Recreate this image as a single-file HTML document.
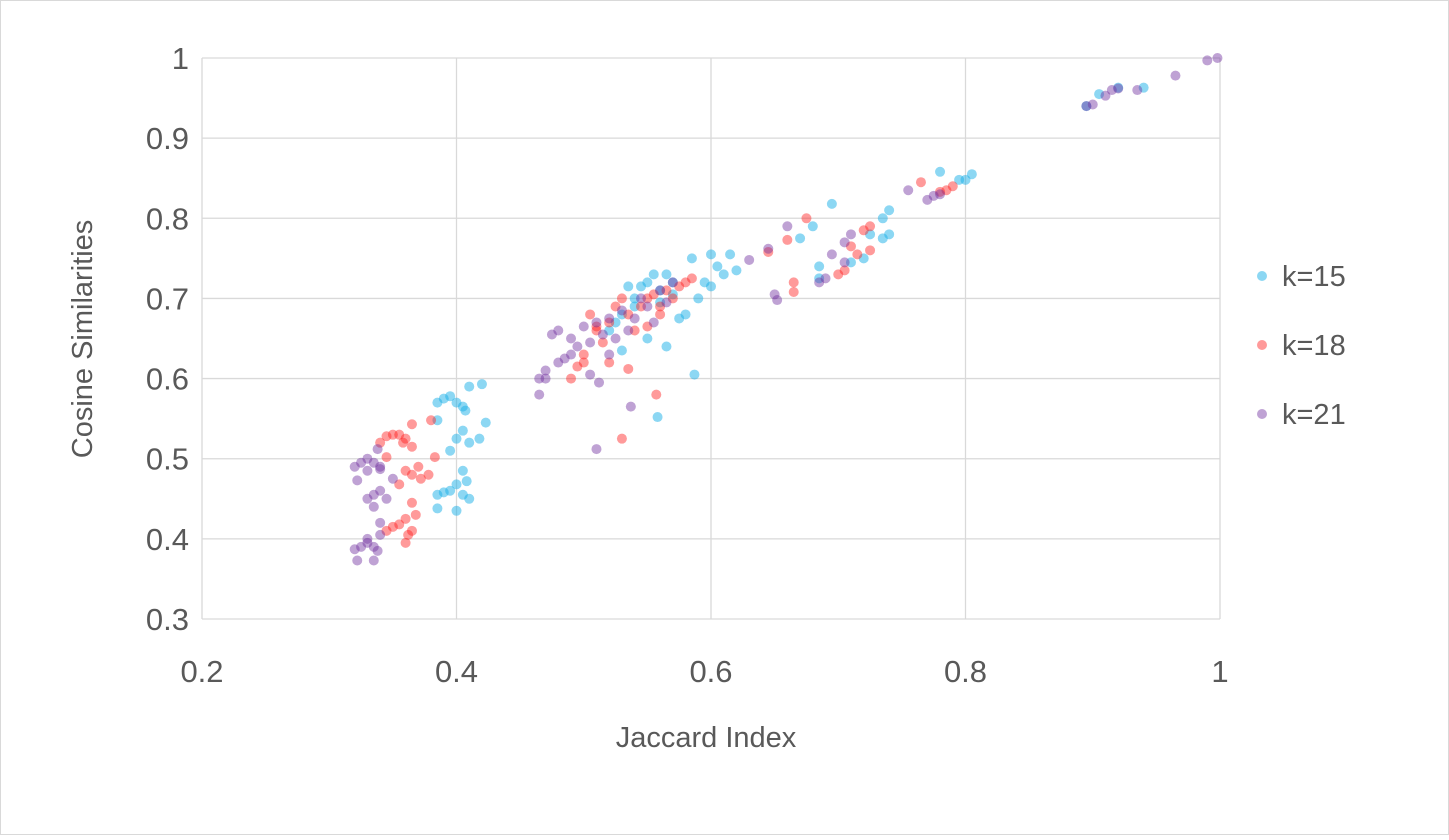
<!DOCTYPE html>
<html><head><meta charset="utf-8"><style>
body{margin:0;background:#fff;}
svg text{font-family:"Liberation Sans",sans-serif;fill:#595959;}
</style></head><body>
<svg id="chart" width="1449" height="835" xmlns="http://www.w3.org/2000/svg">
<rect x="0.5" y="0.5" width="1448" height="834" fill="#fff" stroke="#d9d9d9"/>
<g id="grid"></g>
<g id="ticks"></g>
<g id="pts"></g>
<text x="706" y="747" font-size="29" text-anchor="middle">Jaccard Index</text>
<text transform="translate(92,339) rotate(-90)" font-size="29" text-anchor="middle">Cosine Similarities</text>
<g>
<g><circle cx="1262" cy="276" r="5" fill="#1ab0e8" fill-opacity="0.5"/><text x="1282" y="286" font-size="29">k=15</text></g>
<g><circle cx="1262" cy="345" r="5" fill="#ff2020" fill-opacity="0.45"/><text x="1282" y="355" font-size="29">k=18</text></g>
<g><circle cx="1262" cy="414" r="5" fill="#7030a0" fill-opacity="0.45"/><text x="1282" y="424" font-size="29">k=21</text></g>
</g>
</svg>
<script>
const xTicks=[0.2,0.4,0.6,0.8,1];
const yTicks=[0.3,0.4,0.5,0.6,0.7,0.8,0.9,1];
const k15x=[0.385,0.39,0.395,0.40,0.405,0.41,0.42,0.407,0.385,0.40,0.405,0.41,0.418,0.423,0.395,0.385,0.39,0.395,0.40,0.405,0.408,0.405,0.385,0.40,0.41,0.52,0.53,0.54,0.545,0.55,0.555,0.56,0.565,0.57,0.58,0.585,0.59,0.595,0.60,0.605,0.61,0.615,0.62,0.6,0.575,0.565,0.558,0.587,0.55,0.53,0.54,0.525,0.535,0.56,0.57,0.67,0.68,0.685,0.695,0.685,0.72,0.725,0.735,0.74,0.74,0.735,0.78,0.795,0.80,0.805,0.71,0.905,0.92,0.94,0.895];
const k15y=[0.57,0.575,0.578,0.57,0.565,0.59,0.593,0.56,0.548,0.525,0.535,0.52,0.525,0.545,0.51,0.455,0.458,0.46,0.468,0.455,0.472,0.485,0.438,0.435,0.45,0.66,0.68,0.70,0.715,0.72,0.73,0.71,0.73,0.72,0.68,0.75,0.70,0.72,0.755,0.74,0.73,0.755,0.735,0.715,0.675,0.64,0.552,0.605,0.65,0.635,0.69,0.67,0.715,0.695,0.705,0.775,0.79,0.74,0.818,0.725,0.75,0.78,0.80,0.81,0.78,0.775,0.858,0.848,0.848,0.855,0.745,0.955,0.963,0.963,0.94];
const k18x=[0.365,0.35,0.355,0.345,0.34,0.36,0.365,0.358,0.38,0.383,0.345,0.36,0.365,0.37,0.378,0.372,0.355,0.365,0.368,0.36,0.35,0.345,0.355,0.365,0.36,0.362,0.49,0.495,0.5,0.505,0.51,0.515,0.52,0.525,0.53,0.535,0.54,0.545,0.55,0.555,0.56,0.565,0.575,0.58,0.585,0.52,0.535,0.53,0.557,0.5,0.56,0.57,0.55,0.51,0.645,0.66,0.665,0.665,0.675,0.70,0.705,0.71,0.72,0.725,0.725,0.715,0.765,0.78,0.785,0.79];
const k18y=[0.543,0.53,0.53,0.528,0.52,0.525,0.515,0.52,0.548,0.502,0.502,0.485,0.48,0.49,0.48,0.475,0.468,0.445,0.43,0.425,0.415,0.41,0.418,0.41,0.395,0.405,0.60,0.615,0.63,0.68,0.66,0.645,0.67,0.69,0.70,0.68,0.66,0.69,0.70,0.705,0.69,0.71,0.715,0.72,0.725,0.62,0.612,0.525,0.58,0.62,0.68,0.70,0.665,0.665,0.758,0.773,0.72,0.708,0.80,0.73,0.735,0.765,0.785,0.79,0.76,0.755,0.845,0.833,0.835,0.84];
const k21x=[0.32,0.325,0.33,0.335,0.34,0.322,0.338,0.33,0.335,0.34,0.345,0.33,0.35,0.335,0.34,0.34,0.335,0.33,0.325,0.32,0.322,0.335,0.338,0.33,0.34,0.465,0.47,0.465,0.48,0.475,0.485,0.49,0.49,0.495,0.5,0.505,0.51,0.515,0.52,0.525,0.53,0.535,0.54,0.545,0.55,0.555,0.56,0.565,0.57,0.505,0.512,0.51,0.537,0.52,0.48,0.47,0.63,0.645,0.65,0.652,0.66,0.685,0.69,0.695,0.705,0.71,0.705,0.755,0.77,0.775,0.78,0.895,0.9,0.91,0.915,0.92,0.935,0.965,0.99,0.998];
const k21y=[0.49,0.495,0.50,0.495,0.49,0.473,0.512,0.485,0.455,0.46,0.45,0.45,0.475,0.44,0.42,0.405,0.39,0.395,0.39,0.387,0.373,0.373,0.385,0.4,0.487,0.60,0.61,0.58,0.62,0.655,0.625,0.63,0.65,0.64,0.665,0.645,0.67,0.655,0.675,0.65,0.685,0.66,0.675,0.70,0.69,0.67,0.71,0.695,0.72,0.605,0.595,0.512,0.565,0.63,0.66,0.6,0.748,0.762,0.705,0.698,0.79,0.72,0.725,0.755,0.77,0.78,0.745,0.835,0.823,0.828,0.83,0.94,0.942,0.953,0.96,0.962,0.96,0.978,0.997,1.0];
const X0=202,X1=1220,Y0=619,Y1=58;
const sx=v=>X0+(v-0.2)/0.8*(X1-X0);
const sy=v=>Y0-(v-0.3)/0.7*(Y0-Y1);
const NS='http://www.w3.org/2000/svg';
const grid=document.getElementById('grid'),ticks=document.getElementById('ticks'),pts=document.getElementById('pts');
function mk(tag,attrs,parent){const e=document.createElementNS(NS,tag);for(const k in attrs)e.setAttribute(k,attrs[k]);parent.appendChild(e);return e;}
xTicks.forEach(t=>{
  const l=mk('line',{x1:sx(t),x2:sx(t),y1:Y1,y2:Y0,stroke:'#d9d9d9','stroke-width':1.3},grid);
  
  
  const tx=mk('text',{x:sx(t),y:Y0+63,'font-size':31,'text-anchor':'middle'},ticks);
  tx.textContent=String(t);
  
  
});
yTicks.forEach(t=>{
  const l=mk('line',{x1:X0,x2:X1,y1:sy(t),y2:sy(t),stroke:'#d9d9d9','stroke-width':1.3},grid);
  
  
  const tx=mk('text',{x:X0-13,y:sy(t)+11,'font-size':31,'text-anchor':'end'},ticks);
  tx.textContent=String(t);
  
  
});
function series(xs,ys,color,op,name){
  xs.forEach((v,i)=>{
    const c=mk('circle',{cx:sx(v),cy:sy(ys[i]),r:5,fill:color,'fill-opacity':op},pts);
    
    
  });
}
series(k15x,k15y,'#1ab0e8',0.5,'point-k15');
series(k18x,k18y,'#ff2020',0.45,'point-k18');
series(k21x,k21y,'#7030a0',0.45,'point-k21');
</script>
</body></html>
